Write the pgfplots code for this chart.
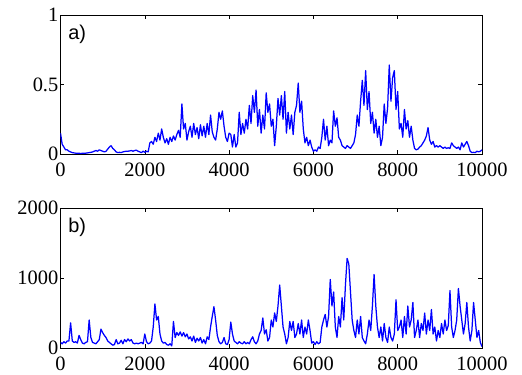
\documentclass[border=0pt]{standalone}
\usepackage{fontspec}
\setmainfont{Liberation Serif}
\setsansfont{Liberation Sans}
\usepackage{pgfplots}
\usepackage{pgfplotstable}
\pgfplotsset{compat=1.18}
\pgfplotstableread[row sep=\\]{
x y\\
0 0.15\\ 40 0.07\\ 80 0.05\\ 120 0.03\\ 160 0.03\\ 200 0.02\\ 240 0.015\\ 280 0.01\\ 320 0.008\\ 360 0.006\\
400 0.005\\ 440 0.005\\ 480 0.004\\ 520 0.005\\ 560 0.006\\ 600 0.006\\ 640 0.008\\ 680 0.01\\ 720 0.012\\ 760 0.015\\
800 0.02\\ 840 0.025\\ 880 0.02\\ 920 0.03\\ 960 0.025\\ 1000 0.02\\ 1040 0.015\\ 1080 0.02\\ 1120 0.035\\ 1160 0.05\\
1200 0.06\\ 1240 0.04\\ 1280 0.03\\ 1320 0.015\\ 1360 0.01\\ 1400 0.012\\ 1440 0.01\\ 1480 0.015\\ 1520 0.018\\ 1560 0.02\\
1600 0.02\\ 1640 0.022\\ 1680 0.025\\ 1720 0.02\\ 1760 0.025\\ 1800 0.028\\ 1840 0.02\\ 1880 0.015\\ 1920 0.01\\ 1960 0.02\\
2000 0.012\\ 2040 0.02\\ 2080 0.015\\ 2120 0.08\\ 2160 0.09\\ 2200 0.07\\ 2240 0.12\\ 2280 0.09\\ 2320 0.15\\ 2360 0.1\\
2400 0.18\\ 2440 0.12\\ 2480 0.08\\ 2520 0.11\\ 2560 0.07\\ 2600 0.12\\ 2640 0.09\\ 2680 0.13\\ 2720 0.1\\ 2760 0.14\\
2800 0.17\\ 2840 0.12\\ 2880 0.36\\ 2920 0.18\\ 2960 0.22\\ 3000 0.1\\ 3040 0.16\\ 3080 0.2\\ 3120 0.12\\ 3160 0.22\\
3200 0.14\\ 3240 0.19\\ 3280 0.11\\ 3320 0.21\\ 3360 0.13\\ 3400 0.2\\ 3440 0.12\\ 3480 0.22\\ 3520 0.14\\ 3560 0.28\\
3600 0.16\\ 3640 0.12\\ 3680 0.1\\ 3720 0.18\\ 3760 0.3\\ 3800 0.25\\ 3840 0.31\\ 3880 0.2\\ 3920 0.12\\ 3960 0.09\\
4000 0.15\\ 4040 0.14\\ 4080 0.05\\ 4120 0.14\\ 4160 0.05\\ 4200 0.08\\ 4240 0.3\\ 4280 0.14\\ 4320 0.22\\ 4360 0.15\\
4400 0.25\\ 4440 0.18\\ 4480 0.35\\ 4520 0.22\\ 4560 0.42\\ 4600 0.3\\ 4640 0.46\\ 4680 0.2\\ 4720 0.32\\ 4760 0.15\\
4800 0.28\\ 4840 0.18\\ 4880 0.44\\ 4920 0.3\\ 4960 0.36\\ 5000 0.2\\ 5040 0.25\\ 5080 0.06\\ 5120 0.2\\ 5160 0.4\\
5200 0.28\\ 5240 0.42\\ 5280 0.25\\ 5320 0.45\\ 5360 0.15\\ 5400 0.3\\ 5440 0.18\\ 5480 0.28\\ 5520 0.14\\ 5560 0.3\\
5600 0.35\\ 5640 0.51\\ 5680 0.3\\ 5720 0.38\\ 5760 0.18\\ 5800 0.08\\ 5840 0.12\\ 5880 0.06\\ 5920 0.1\\ 5960 0.05\\
6000 0.02\\ 6040 0.03\\ 6080 0.02\\ 6120 0.05\\ 6160 0.04\\ 6200 0.12\\ 6240 0.25\\ 6280 0.1\\ 6320 0.2\\ 6360 0.06\\
6400 0.1\\ 6440 0.08\\ 6480 0.31\\ 6520 0.2\\ 6560 0.26\\ 6600 0.12\\ 6640 0.1\\ 6680 0.06\\ 6720 0.05\\ 6760 0.04\\
6800 0.06\\ 6840 0.05\\ 6880 0.04\\ 6920 0.06\\ 6960 0.08\\ 7000 0.14\\ 7040 0.28\\ 7080 0.2\\ 7120 0.38\\ 7160 0.53\\
7200 0.35\\ 7240 0.6\\ 7280 0.32\\ 7320 0.45\\ 7360 0.22\\ 7400 0.3\\ 7440 0.15\\ 7480 0.25\\ 7520 0.12\\ 7560 0.2\\
7600 0.06\\ 7640 0.12\\ 7680 0.36\\ 7720 0.22\\ 7760 0.33\\ 7800 0.64\\ 7840 0.38\\ 7880 0.55\\ 7920 0.6\\ 7960 0.32\\
8000 0.45\\ 8040 0.18\\ 8080 0.22\\ 8120 0.12\\ 8160 0.32\\ 8200 0.18\\ 8240 0.24\\ 8280 0.12\\ 8320 0.2\\ 8360 0.1\\
8400 0.04\\ 8440 0.03\\ 8480 0.035\\ 8520 0.05\\ 8560 0.06\\ 8600 0.08\\ 8640 0.1\\ 8680 0.13\\ 8720 0.19\\ 8760 0.1\\
8800 0.07\\ 8840 0.09\\ 8880 0.05\\ 8920 0.06\\ 8960 0.05\\ 9000 0.06\\ 9040 0.05\\ 9080 0.04\\ 9120 0.05\\ 9160 0.04\\
9200 0.045\\ 9240 0.04\\ 9280 0.08\\ 9320 0.06\\ 9360 0.05\\ 9400 0.04\\ 9440 0.05\\ 9480 0.03\\ 9520 0.08\\ 9560 0.05\\
9600 0.07\\ 9640 0.09\\ 9680 0.06\\ 9720 0.02\\ 9760 0.01\\ 9800 0.012\\ 9840 0.01\\ 9880 0.02\\ 9920 0.015\\ 9960 0.02\\
10000 0.03\\
}\dataA
\pgfplotstableread[row sep=\\]{
x y\\
0 80\\ 40 60\\ 80 90\\ 120 70\\ 160 100\\ 200 100\\ 240 360\\ 280 100\\ 320 80\\ 360 90\\
400 70\\ 440 180\\ 480 120\\ 520 70\\ 560 60\\ 600 80\\ 640 90\\ 680 400\\ 720 150\\ 760 80\\
800 70\\ 840 60\\ 880 90\\ 920 120\\ 960 270\\ 1000 220\\ 1040 180\\ 1080 150\\ 1120 100\\ 1160 80\\
1200 60\\ 1240 40\\ 1280 50\\ 1320 120\\ 1360 60\\ 1400 70\\ 1440 110\\ 1480 60\\ 1520 120\\ 1560 90\\
1600 130\\ 1640 100\\ 1680 120\\ 1720 70\\ 1760 60\\ 1800 70\\ 1840 60\\ 1880 70\\ 1920 80\\ 1960 60\\
2000 200\\ 2040 90\\ 2080 60\\ 2120 70\\ 2160 100\\ 2200 300\\ 2240 630\\ 2280 400\\ 2320 450\\ 2360 200\\
2400 100\\ 2440 70\\ 2480 80\\ 2520 50\\ 2560 40\\ 2600 60\\ 2640 30\\ 2680 380\\ 2720 150\\ 2760 220\\
2800 180\\ 2840 230\\ 2880 170\\ 2920 220\\ 2960 160\\ 3000 200\\ 3040 130\\ 3080 160\\ 3120 100\\ 3160 170\\
3200 80\\ 3240 140\\ 3280 100\\ 3320 150\\ 3360 70\\ 3400 120\\ 3440 60\\ 3480 160\\ 3520 120\\ 3560 300\\
3600 450\\ 3640 590\\ 3680 400\\ 3720 180\\ 3760 90\\ 3800 60\\ 3840 80\\ 3880 150\\ 3920 60\\ 3960 50\\
4000 120\\ 4040 370\\ 4080 200\\ 4120 100\\ 4160 80\\ 4200 60\\ 4240 90\\ 4280 70\\ 4320 60\\ 4360 90\\
4400 60\\ 4440 80\\ 4480 60\\ 4520 120\\ 4560 160\\ 4600 90\\ 4640 60\\ 4680 100\\ 4720 200\\ 4760 250\\
4800 430\\ 4840 200\\ 4880 260\\ 4920 100\\ 4960 150\\ 5000 400\\ 5040 300\\ 5080 500\\ 5120 380\\ 5160 600\\
5200 900\\ 5240 600\\ 5280 300\\ 5320 200\\ 5360 60\\ 5400 150\\ 5440 380\\ 5480 250\\ 5520 380\\ 5560 150\\
5600 200\\ 5640 350\\ 5680 200\\ 5720 400\\ 5760 150\\ 5800 300\\ 5840 200\\ 5880 400\\ 5920 250\\ 5960 70\\
6000 90\\ 6040 50\\ 6080 90\\ 6120 60\\ 6160 80\\ 6200 300\\ 6240 400\\ 6280 480\\ 6320 300\\ 6360 450\\
6400 980\\ 6440 600\\ 6480 800\\ 6520 300\\ 6560 150\\ 6600 450\\ 6640 300\\ 6680 720\\ 6720 400\\ 6760 900\\
6800 1280\\ 6840 1200\\ 6880 800\\ 6920 400\\ 6960 250\\ 7000 150\\ 7040 400\\ 7080 200\\ 7120 450\\ 7160 150\\
7200 100\\ 7240 60\\ 7280 200\\ 7320 400\\ 7360 250\\ 7400 600\\ 7440 1050\\ 7480 600\\ 7520 300\\ 7560 150\\
7600 300\\ 7640 100\\ 7680 350\\ 7720 150\\ 7760 80\\ 7800 300\\ 7840 150\\ 7880 100\\ 7920 200\\ 7960 690\\
8000 250\\ 8040 300\\ 8080 400\\ 8120 150\\ 8160 450\\ 8200 200\\ 8240 600\\ 8280 300\\ 8320 400\\ 8360 650\\
8400 150\\ 8440 250\\ 8480 400\\ 8520 150\\ 8560 350\\ 8600 250\\ 8640 500\\ 8680 200\\ 8720 400\\ 8760 250\\
8800 550\\ 8840 200\\ 8880 300\\ 8920 100\\ 8960 250\\ 9000 150\\ 9040 350\\ 9080 200\\ 9120 400\\ 9160 250\\
9200 320\\ 9240 820\\ 9280 300\\ 9320 150\\ 9360 250\\ 9400 400\\ 9440 850\\ 9480 600\\ 9520 400\\ 9560 200\\
9600 350\\ 9640 650\\ 9680 300\\ 9720 100\\ 9760 250\\ 9800 650\\ 9840 400\\ 9880 150\\ 9920 250\\ 9960 80\\
10000 20\\
}\dataB
\pgfplotsset{myax/.style={
  scale only axis, width=421.5bp, height=139bp, anchor=north west,
  xmin=0, xmax=10000, xtick={0,2000,4000,6000,8000,10000},
  tick align=inside, major tick length=4bp,
  tick style={black, line width=0.6bp},
  axis line style={black, line width=0.8bp},
  ticklabel style={font=\fontsize{20.5}{24}\selectfont},
  xticklabel style={inner sep=1bp, yshift=-7.5bp},
  yticklabel style={inner sep=2bp},
  /pgf/number format/assume math mode=true,
  /pgf/number format/1000 sep={},
  scaled ticks=false,
}}
\begin{document}
\begin{tikzpicture}
\useasboundingbox (0bp,0bp) rectangle (522bp,-375bp);
\begin{axis}[myax, at={(60.5bp,-15bp)}, ymin=0, ymax=1, ytick={0,0.5,1}]
\addplot[color={rgb,255:red,0;green,0;blue,255}, line width=1.25bp, line join=round] table[x=x,y=y] {\dataA};
\node[anchor=north west, inner sep=0pt, font=\sffamily\fontsize{20}{24}\selectfont] at (axis description cs:0.018,0.93) {a)};
\end{axis}
\begin{axis}[myax, at={(60.5bp,-208bp)}, height=140bp, ymin=0, ymax=2000, ytick={0,1000,2000}]
\addplot[color={rgb,255:red,0;green,0;blue,255}, line width=1.25bp, line join=round] table[x=x,y=y] {\dataB};
\node[anchor=north west, inner sep=0pt, font=\sffamily\fontsize{20}{24}\selectfont] at (axis description cs:0.018,0.93) {b)};
\end{axis}
\end{tikzpicture}
\end{document}
